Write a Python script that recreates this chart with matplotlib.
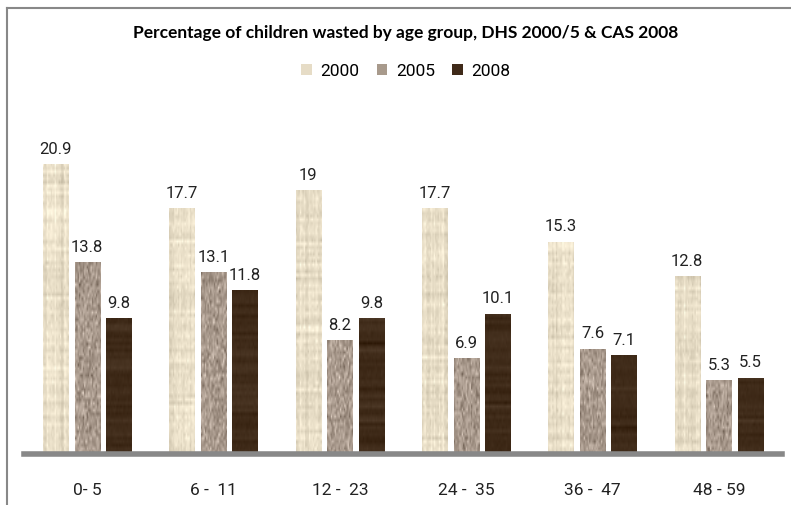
import numpy as np
import matplotlib
matplotlib.use("Agg")
import matplotlib.pyplot as plt
from matplotlib.lines import Line2D
from matplotlib.patches import Patch

groups = ["0- 5", "6 -  11", "12 -  23", "24 -  35", "36 -  47", "48 - 59"]
years = ["2000", "2005", "2008"]
v2000 = [20.9, 17.7, 19, 17.7, 15.3, 12.8]
v2005 = [13.8, 13.1, 8.2, 6.9, 7.6, 5.3]
v2008 = [9.8, 11.8, 9.8, 10.1, 7.1, 5.5]

colors = ["#e6dcc6", "#a89a8c", "#3f2a19"]

fig = plt.figure(figsize=(7.91, 5.06), dpi=100)
ax = fig.add_axes([24 / 791, 51 / 506, 758 / 791, 347 / 506])

rng = np.random.default_rng(3)


def texture(kind, h=60, w=20):
    # fake textures: linen, granite, wood
    if kind == 0:
        base = np.array([0.91, 0.87, 0.78])
        n = rng.normal(0, 0.025, (h, w))
        n += rng.normal(0, 0.025, (1, w)) + rng.normal(0, 0.025, (h, 1))
    elif kind == 1:
        base = np.array([0.66, 0.60, 0.55])
        n = rng.normal(0, 0.08, (h, w))
    else:
        base = np.array([0.25, 0.17, 0.10])
        n = rng.normal(0, 0.02, (h, 1)) * np.ones((1, w)) + rng.normal(0, 0.008, (h, w))
    return np.clip(base[None, None, :] + n[:, :, None], 0, 1)


x = np.arange(len(groups))
width = 0.2
offs = [-0.25, 0, 0.25]
for k, vals in enumerate([v2000, v2005, v2008]):
    bars = ax.bar(x + offs[k], vals, width, color=colors[k], linewidth=0, zorder=2)
    for b, v in zip(bars, vals):
        x0 = b.get_x()
        im = ax.imshow(texture(k, h=max(10, int(v * 4))), extent=(x0, x0 + b.get_width(), 0, v),
                       aspect="auto", interpolation="bilinear", zorder=3)
        im.set_clip_path(b)
        lab = str(int(v)) if v == int(v) else str(v)
        ax.text(x0 + b.get_width() / 2, v + 0.6, lab,
                ha="center", va="bottom", fontsize=12, family="Roboto", color="#222222")

ax.set_xlim(-0.5, len(groups) - 0.5)
ax.set_ylim(0, 25)
ax.set_xticks(x)
ax.set_xticklabels(groups, fontsize=12.5, family="Roboto", color="#222222")
ax.tick_params(axis="x", length=0, pad=20)
ax.set_yticks([])
for s in ["top", "right", "left"]:
    ax.spines[s].set_visible(False)
ax.spines["bottom"].set_color("#888888")
ax.spines["bottom"].set_linewidth(4)
ax.spines["bottom"].set_zorder(5)

fig.text(0.513, 1 - 33 / 506, "Percentage of children wasted by age group, DHS 2000/5 & CAS 2008",
         ha="center", va="center", fontsize=12.5, fontweight="bold", family="Lato")

handles = [Patch(facecolor=c, edgecolor="none") for c in colors]
fig.legend(handles, years, loc="center", bbox_to_anchor=(0.513, 1 - 72 / 506), ncol=3,
           frameon=False, handlelength=0.6, handleheight=0.6,
           handletextpad=0.5, columnspacing=1.0, prop={"family": "Roboto", "size": 12.5})

fig.add_artist(Line2D([7 / 791, 7 / 791], [0, 1 - 9 / 506], color="#888888", lw=1.5))
fig.add_artist(Line2D([7 / 791, 1], [1 - 9 / 506, 1 - 9 / 506], color="#888888", lw=1.5))

fig.savefig("out.png", dpi=100)
